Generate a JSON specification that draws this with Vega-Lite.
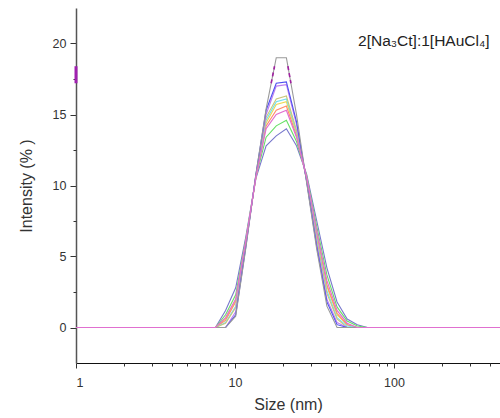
{
  "$schema": "https://vega.github.io/schema/vega-lite/v6.json",
  "width": 424,
  "height": 355,
  "autosize": "none",
  "padding": {"left": 76, "top": 8, "right": 0, "bottom": 55},
  "config": {
    "view": {"stroke": null},
    "axis": {
      "grid": false,
      "labelFont": "Liberation Sans",
      "titleFont": "Liberation Sans",
      "labelFontSize": 12.5,
      "titleFontSize": 16,
      "titleFontWeight": "normal",
      "labelColor": "#333333",
      "titleColor": "#333333",
      "domainColor": "#333333",
      "tickColor": "#333333"
    }
  },
  "datasets": {
    "dls": [
      {"x": 1, "grey": 0, "blue": 0, "violet": 0, "olive": 0, "cyan": 0, "yellow": 0, "orange": 0, "pink": 0, "green": 0, "slate": 0},
      {"x": 7.531, "grey": 0, "blue": 0, "violet": 0, "olive": 0, "cyan": 0, "yellow": 0, "orange": 0, "pink": 0, "green": 0, "slate": 0},
      {"x": 8.721, "grey": 0, "blue": 0, "violet": 0, "olive": 0.3, "cyan": 0.35, "yellow": 0.6, "orange": 0.5, "pink": 0.7, "green": 0.9, "slate": 1.2},
      {"x": 10.1, "grey": 0.8, "blue": 0.9, "violet": 1.1, "olive": 1.4, "cyan": 1.5, "yellow": 1.9, "orange": 1.8, "pink": 2.0, "green": 2.3, "slate": 2.8},
      {"x": 11.7, "grey": 5.6, "blue": 5.7, "violet": 5.8, "olive": 5.9, "cyan": 5.9, "yellow": 6.0, "orange": 6.0, "pink": 6.1, "green": 6.2, "slate": 6.4},
      {"x": 13.54, "grey": 10.8, "blue": 10.8, "violet": 10.7, "olive": 10.7, "cyan": 10.7, "yellow": 10.6, "orange": 10.6, "pink": 10.6, "green": 10.6, "slate": 10.5},
      {"x": 15.69, "grey": 15.4, "blue": 15.3, "violet": 15.0, "olive": 14.8, "cyan": 14.6, "yellow": 14.4, "orange": 14.2, "pink": 14.0, "green": 13.4, "slate": 12.8},
      {"x": 18.17, "grey": 19.0, "blue": 17.2, "violet": 17.0, "olive": 16.1, "cyan": 15.9, "yellow": 15.7, "orange": 15.3, "pink": 15.0, "green": 14.2, "slate": 13.5},
      {"x": 21.04, "grey": 19.0, "blue": 17.3, "violet": 17.1, "olive": 16.3, "cyan": 16.1, "yellow": 15.9, "orange": 15.6, "pink": 15.3, "green": 14.6, "slate": 14.0},
      {"x": 24.36, "grey": 15.0, "blue": 14.5, "violet": 14.3, "olive": 13.9, "cyan": 13.8, "yellow": 13.7, "orange": 13.5, "pink": 13.4, "green": 13.1, "slate": 12.8},
      {"x": 28.21, "grey": 10.2, "blue": 10.3, "violet": 10.3, "olive": 10.4, "cyan": 10.4, "yellow": 10.5, "orange": 10.5, "pink": 10.6, "green": 10.7, "slate": 10.8},
      {"x": 32.67, "grey": 5.5, "blue": 5.7, "violet": 5.9, "olive": 6.2, "cyan": 6.3, "yellow": 6.5, "orange": 6.6, "pink": 6.8, "green": 7.1, "slate": 7.5},
      {"x": 37.84, "grey": 1.5, "blue": 1.8, "violet": 2.0, "olive": 2.4, "cyan": 2.6, "yellow": 2.9, "orange": 3.0, "pink": 3.3, "green": 3.7, "slate": 4.2},
      {"x": 43.82, "grey": 0, "blue": 0.2, "violet": 0.35, "olive": 0.6, "cyan": 0.7, "yellow": 0.9, "orange": 1.0, "pink": 1.2, "green": 1.45, "slate": 1.8},
      {"x": 50.75, "grey": 0, "blue": 0, "violet": 0, "olive": 0, "cyan": 0.1, "yellow": 0.2, "orange": 0.2, "pink": 0.3, "green": 0.45, "slate": 0.6},
      {"x": 58.77, "grey": 0, "blue": 0, "violet": 0, "olive": 0, "cyan": 0, "yellow": 0, "orange": 0, "pink": 0, "green": 0.1, "slate": 0.2},
      {"x": 68.06, "grey": 0, "blue": 0, "violet": 0, "olive": 0, "cyan": 0, "yellow": 0, "orange": 0, "pink": 0, "green": 0, "slate": 0},
      {"x": 464, "grey": 0, "blue": 0, "violet": 0, "olive": 0, "cyan": 0, "yellow": 0, "orange": 0, "pink": 0, "green": 0, "slate": 0}
    ],
    "hl": [
      {"seg": "L", "x": 16.88, "y": 17.2},
      {"seg": "L", "x": 17.73, "y": 18.4},
      {"seg": "R", "x": 21.51, "y": 18.4},
      {"seg": "R", "x": 22.47, "y": 17.2}
    ]
  },
  "layer": [
    {
      "data": {"name": "dls"},
      "transform": [
        {"fold": ["slate", "green", "yellow", "orange", "cyan", "olive", "violet", "blue", "grey", "pink"], "as": ["series", "y"]},
        {"filter": "datum.series !== 'pink'"}
      ],
      "mark": {"type": "line", "strokeWidth": 1.1, "clip": true},
      "encoding": {
        "x": {
          "field": "x", "type": "quantitative",
          "scale": {"type": "log", "domain": [1, 464], "nice": false},
          "axis": {"values": [1, 10, 100], "format": "d", "tickSize": 5, "labelPadding": 8, "title": "Size (nm)", "titlePadding": 8, "domainColor": "#111111"}
        },
        "y": {
          "field": "y", "type": "quantitative",
          "scale": {"domain": [-2.5, 22.5], "nice": false, "zero": false},
          "axis": {"values": [0, 5, 10, 15, 20], "tickSize": 6, "labelPadding": 4, "title": "Intensity (% )", "titlePadding": 18, "domainColor": "#555555", "domainWidth": 1.5}
        },
        "color": {
          "field": "series", "type": "nominal",
          "scale": {
            "domain": ["slate", "green", "yellow", "orange", "cyan", "olive", "violet", "blue", "grey", "pink"],
            "range": ["#7878cc", "#66e066", "#f0d850", "#ff8c69", "#70e0f0", "#c8c87a", "#c080f0", "#5050f0", "#999999", "#e070d0"]
          },
          "legend": null
        }
      }
    },
    {
      "data": {"name": "dls"},
      "transform": [
        {"fold": ["slate", "green", "yellow", "orange", "cyan", "olive", "violet", "blue", "grey", "pink"], "as": ["series", "y"]},
        {"filter": "datum.series === 'pink'"}
      ],
      "mark": {"type": "line", "strokeWidth": 1.2, "clip": true},
      "encoding": {
        "x": {"field": "x", "type": "quantitative", "axis": null},
        "y": {"field": "y", "type": "quantitative", "axis": null},
        "color": {"field": "series", "type": "nominal", "legend": null}
      }
    },
    {
      "data": {"name": "hl"},
      "mark": {"type": "line", "strokeDash": [4, 3], "strokeWidth": 1.6, "color": "#a020a0"},
      "encoding": {
        "x": {
          "field": "x", "type": "quantitative",
          "axis": {"orient": "bottom", "values": [2, 3, 4, 5, 6, 7, 8, 9, 20, 30, 40, 50, 60, 70, 80, 90, 200, 300, 400], "labels": false, "domain": false, "tickSize": 3, "title": null}
        },
        "y": {
          "field": "y", "type": "quantitative",
          "axis": {"orient": "left", "values": [2.5, 7.5, 12.5, 17.5], "labels": false, "domain": false, "tickSize": 3, "title": null}
        },
        "detail": {"field": "seg"}
      }
    },
    {
      "data": {"values": [{}]},
      "mark": {"type": "rule", "color": "#a020b0", "strokeWidth": 3},
      "encoding": {
        "x": {"datum": 1, "type": "quantitative", "axis": null},
        "y": {"datum": 17.2, "type": "quantitative", "axis": null},
        "y2": {"datum": 18.4}
      }
    },
    {
      "data": {"values": [{}]},
      "mark": {"type": "text", "text": "2[Na₃Ct]:1[HAuCl₄]", "font": "Liberation Sans", "fontSize": 15.5, "align": "left", "baseline": "alphabetic", "color": "#222222"},
      "encoding": {
        "x": {"datum": 59.4, "type": "quantitative", "axis": null},
        "y": {"datum": 19.8, "type": "quantitative", "axis": null}
      }
    }
  ],
  "resolve": {"axis": {"x": "independent", "y": "independent"}}
}
